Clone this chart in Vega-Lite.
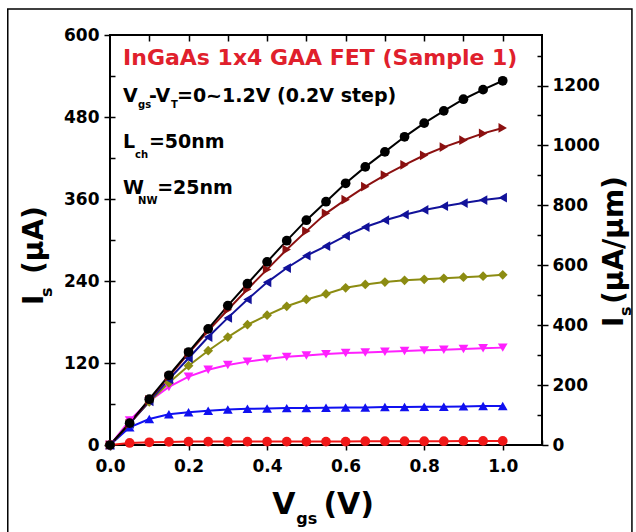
{
  "$schema": "https://vega.github.io/schema/vega-lite/v6.json",
  "width": 432,
  "height": 410,
  "autosize": "none",
  "padding": {"left": 110, "top": 35, "right": 94, "bottom": 87},
  "background": "white",
  "config": {
    "font": "DejaVu Sans",
    "view": {"stroke": "black", "strokeWidth": 2},
    "axis": {"grid": false, "domain": false, "labelFlush": false, "labelFont": "DejaVu Sans", "labelFontWeight": "bold", "labelFontSize": 17, "labelColor": "black", "tickColor": "black", "tickWidth": 1.5, "title": null}
  },
  "data": {
    "values": [
      {"s": "0.0", "v": 0, "i": 0}, {"s": "0.0", "v": 0.05, "i": 3}, {"s": "0.0", "v": 0.1, "i": 4}, {"s": "0.0", "v": 0.15, "i": 4.5}, {"s": "0.0", "v": 0.2, "i": 5}, {"s": "0.0", "v": 0.25, "i": 5}, {"s": "0.0", "v": 0.3, "i": 5}, {"s": "0.0", "v": 0.35, "i": 5}, {"s": "0.0", "v": 0.4, "i": 5}, {"s": "0.0", "v": 0.45, "i": 5}, {"s": "0.0", "v": 0.5, "i": 5}, {"s": "0.0", "v": 0.55, "i": 5}, {"s": "0.0", "v": 0.6, "i": 5}, {"s": "0.0", "v": 0.65, "i": 5.5}, {"s": "0.0", "v": 0.7, "i": 5.5}, {"s": "0.0", "v": 0.75, "i": 5.5}, {"s": "0.0", "v": 0.8, "i": 5.5}, {"s": "0.0", "v": 0.85, "i": 5.5}, {"s": "0.0", "v": 0.9, "i": 6}, {"s": "0.0", "v": 0.95, "i": 6}, {"s": "0.0", "v": 1.0, "i": 6},
      {"s": "0.2", "v": 0, "i": 0}, {"s": "0.2", "v": 0.05, "i": 26}, {"s": "0.2", "v": 0.1, "i": 38}, {"s": "0.2", "v": 0.15, "i": 45}, {"s": "0.2", "v": 0.2, "i": 48}, {"s": "0.2", "v": 0.25, "i": 50}, {"s": "0.2", "v": 0.3, "i": 52}, {"s": "0.2", "v": 0.35, "i": 53}, {"s": "0.2", "v": 0.4, "i": 53.5}, {"s": "0.2", "v": 0.45, "i": 54}, {"s": "0.2", "v": 0.5, "i": 54}, {"s": "0.2", "v": 0.55, "i": 54.5}, {"s": "0.2", "v": 0.6, "i": 55}, {"s": "0.2", "v": 0.65, "i": 55}, {"s": "0.2", "v": 0.7, "i": 55.5}, {"s": "0.2", "v": 0.75, "i": 55.5}, {"s": "0.2", "v": 0.8, "i": 56}, {"s": "0.2", "v": 0.85, "i": 56}, {"s": "0.2", "v": 0.9, "i": 56.5}, {"s": "0.2", "v": 0.95, "i": 57}, {"s": "0.2", "v": 1.0, "i": 57},
      {"s": "0.4", "v": 0, "i": 0}, {"s": "0.4", "v": 0.05, "i": 36}, {"s": "0.4", "v": 0.1, "i": 64}, {"s": "0.4", "v": 0.15, "i": 85}, {"s": "0.4", "v": 0.2, "i": 100}, {"s": "0.4", "v": 0.25, "i": 110}, {"s": "0.4", "v": 0.3, "i": 117}, {"s": "0.4", "v": 0.35, "i": 122}, {"s": "0.4", "v": 0.4, "i": 126}, {"s": "0.4", "v": 0.45, "i": 129}, {"s": "0.4", "v": 0.5, "i": 131}, {"s": "0.4", "v": 0.55, "i": 133}, {"s": "0.4", "v": 0.6, "i": 134.5}, {"s": "0.4", "v": 0.65, "i": 135.5}, {"s": "0.4", "v": 0.7, "i": 136.5}, {"s": "0.4", "v": 0.75, "i": 137.5}, {"s": "0.4", "v": 0.8, "i": 138.5}, {"s": "0.4", "v": 0.85, "i": 139.5}, {"s": "0.4", "v": 0.9, "i": 140.5}, {"s": "0.4", "v": 0.95, "i": 141.5}, {"s": "0.4", "v": 1.0, "i": 142.5},
      {"s": "0.6", "v": 0, "i": 0}, {"s": "0.6", "v": 0.05, "i": 32}, {"s": "0.6", "v": 0.1, "i": 63}, {"s": "0.6", "v": 0.15, "i": 91}, {"s": "0.6", "v": 0.2, "i": 116}, {"s": "0.6", "v": 0.25, "i": 138}, {"s": "0.6", "v": 0.3, "i": 158}, {"s": "0.6", "v": 0.35, "i": 176}, {"s": "0.6", "v": 0.4, "i": 190}, {"s": "0.6", "v": 0.45, "i": 203}, {"s": "0.6", "v": 0.5, "i": 213}, {"s": "0.6", "v": 0.55, "i": 221}, {"s": "0.6", "v": 0.6, "i": 230}, {"s": "0.6", "v": 0.65, "i": 235}, {"s": "0.6", "v": 0.7, "i": 238.5}, {"s": "0.6", "v": 0.75, "i": 241}, {"s": "0.6", "v": 0.8, "i": 242.5}, {"s": "0.6", "v": 0.85, "i": 244}, {"s": "0.6", "v": 0.9, "i": 245.5}, {"s": "0.6", "v": 0.95, "i": 247}, {"s": "0.6", "v": 1.0, "i": 249},
      {"s": "0.8", "v": 0, "i": 0}, {"s": "0.8", "v": 0.05, "i": 31}, {"s": "0.8", "v": 0.1, "i": 64}, {"s": "0.8", "v": 0.15, "i": 96}, {"s": "0.8", "v": 0.2, "i": 127}, {"s": "0.8", "v": 0.25, "i": 158}, {"s": "0.8", "v": 0.3, "i": 186}, {"s": "0.8", "v": 0.35, "i": 213}, {"s": "0.8", "v": 0.4, "i": 238}, {"s": "0.8", "v": 0.45, "i": 259}, {"s": "0.8", "v": 0.5, "i": 277}, {"s": "0.8", "v": 0.55, "i": 291}, {"s": "0.8", "v": 0.6, "i": 306}, {"s": "0.8", "v": 0.65, "i": 319}, {"s": "0.8", "v": 0.7, "i": 329}, {"s": "0.8", "v": 0.75, "i": 337}, {"s": "0.8", "v": 0.8, "i": 344}, {"s": "0.8", "v": 0.85, "i": 349.5}, {"s": "0.8", "v": 0.9, "i": 354}, {"s": "0.8", "v": 0.95, "i": 358.5}, {"s": "0.8", "v": 1.0, "i": 362},
      {"s": "1.0", "v": 0, "i": 0}, {"s": "1.0", "v": 0.05, "i": 31}, {"s": "1.0", "v": 0.1, "i": 66}, {"s": "1.0", "v": 0.15, "i": 100}, {"s": "1.0", "v": 0.2, "i": 134}, {"s": "1.0", "v": 0.25, "i": 167}, {"s": "1.0", "v": 0.3, "i": 198}, {"s": "1.0", "v": 0.35, "i": 228}, {"s": "1.0", "v": 0.4, "i": 257}, {"s": "1.0", "v": 0.45, "i": 286}, {"s": "1.0", "v": 0.5, "i": 313}, {"s": "1.0", "v": 0.55, "i": 339}, {"s": "1.0", "v": 0.6, "i": 359}, {"s": "1.0", "v": 0.65, "i": 378}, {"s": "1.0", "v": 0.7, "i": 395}, {"s": "1.0", "v": 0.75, "i": 410}, {"s": "1.0", "v": 0.8, "i": 424}, {"s": "1.0", "v": 0.85, "i": 436}, {"s": "1.0", "v": 0.9, "i": 446}, {"s": "1.0", "v": 0.95, "i": 456}, {"s": "1.0", "v": 1.0, "i": 464},
      {"s": "1.2", "v": 0, "i": 0}, {"s": "1.2", "v": 0.05, "i": 32}, {"s": "1.2", "v": 0.1, "i": 67}, {"s": "1.2", "v": 0.15, "i": 102}, {"s": "1.2", "v": 0.2, "i": 136}, {"s": "1.2", "v": 0.25, "i": 170}, {"s": "1.2", "v": 0.3, "i": 204}, {"s": "1.2", "v": 0.35, "i": 236}, {"s": "1.2", "v": 0.4, "i": 268}, {"s": "1.2", "v": 0.45, "i": 299}, {"s": "1.2", "v": 0.5, "i": 329}, {"s": "1.2", "v": 0.55, "i": 356}, {"s": "1.2", "v": 0.6, "i": 383}, {"s": "1.2", "v": 0.65, "i": 407}, {"s": "1.2", "v": 0.7, "i": 429}, {"s": "1.2", "v": 0.75, "i": 451}, {"s": "1.2", "v": 0.8, "i": 471}, {"s": "1.2", "v": 0.85, "i": 489}, {"s": "1.2", "v": 0.9, "i": 506}, {"s": "1.2", "v": 0.95, "i": 520}, {"s": "1.2", "v": 1.0, "i": 533}
    ]
  },
  "resolve": {"scale": {"x": "shared", "y": "shared"}, "axis": {"x": "independent", "y": "independent"}},
  "layer": [
    {
      "data": {"values": [{}]},
      "mark": {"type": "rect", "filled": false, "stroke": "black", "strokeWidth": 1.5},
      "encoding": {
        "x": {"datum": -0.2603, "type": "quantitative", "axis": null, "scale": {"domain": [0, 1.1], "nice": false, "zero": false}},
        "x2": {"datum": 1.329},
        "y": {"datum": 638, "type": "quantitative", "axis": null, "scale": {"domain": [0, 600], "nice": false, "zero": false}},
        "y2": {"datum": -140}
      }
    },
    {
      "mark": {"type": "line", "strokeWidth": 2},
      "encoding": {
        "x": {"field": "v", "type": "quantitative", "scale": {"domain": [0, 1.1], "nice": false, "zero": false},
              "axis": {"orient": "bottom", "values": [0, 0.2, 0.4, 0.6, 0.8, 1.0], "format": ".1f", "tickSize": 5, "labelPadding": 8}},
        "y": {"field": "i", "type": "quantitative", "scale": {"domain": [0, 600], "nice": false, "zero": false},
              "axis": {"orient": "left", "values": [0, 120, 240, 360, 480, 600], "tickSize": 6, "labelPadding": 5}},
        "color": {"field": "s", "type": "nominal", "legend": null,
                  "scale": {"domain": ["0.0", "0.2", "0.4", "0.6", "0.8", "1.0", "1.2"], "range": ["#f01818", "#1010f0", "#ff20ff", "#8c8c12", "#12129a", "#8b1010", "#000000"]}},
        "order": {"field": "v", "type": "quantitative"}
      }
    },
    {
      "mark": {"type": "point", "filled": true, "size": 95, "opacity": 1},
      "encoding": {
        "x": {"field": "v", "type": "quantitative", "axis": null},
        "y": {"field": "i", "type": "quantitative", "axis": null},
        "color": {"field": "s", "type": "nominal", "legend": null},
        "shape": {"field": "s", "type": "nominal", "legend": null,
                  "scale": {"domain": ["0.0", "0.2", "0.4", "0.6", "0.8", "1.0", "1.2"], "range": ["circle", "triangle-up", "triangle-down", "diamond", "triangle-left", "triangle-right", "circle"]}}
      }
    },
    {
      "mark": {"type": "point", "opacity": 0},
      "encoding": {
        "x": {"field": "v", "type": "quantitative",
              "axis": {"orient": "bottom", "values": [0, 0.1, 0.2, 0.3, 0.4, 0.5, 0.6, 0.7, 0.8, 0.9, 1.0, 1.1], "tickSize": -5, "labels": false}},
        "y": {"field": "i", "type": "quantitative",
              "axis": {"orient": "left", "values": [60, 120, 180, 240, 300, 360, 420, 480, 540], "tickSize": -5, "labels": false}}
      }
    },
    {
      "mark": {"type": "point", "opacity": 0},
      "encoding": {
        "x": {"field": "v", "type": "quantitative",
              "axis": {"orient": "top", "values": [0.1, 0.2, 0.3, 0.4, 0.5, 0.6, 0.7, 0.8, 0.9, 1.0], "tickSize": -6, "labels": false}},
        "y": {"field": "i", "type": "quantitative",
              "axis": {"orient": "right", "values": [0, 87.68, 175.36, 263.04, 350.72, 438.4, 526.08], "tickSize": 6, "labelPadding": 4,
                       "labelExpr": "format(round(datum.value*2.281/100)*100, 'd')"}}
      }
    },
    {
      "mark": {"type": "point", "opacity": 0},
      "encoding": {
        "x": {"field": "v", "type": "quantitative", "axis": null},
        "y": {"field": "i", "type": "quantitative",
              "axis": {"orient": "right", "values": [43.84, 87.68, 131.52, 175.36, 219.2, 263.04, 306.88, 350.72, 394.56, 438.4, 482.24, 526.08, 569.92], "tickSize": -5, "labels": false}}
      }
    },
    {
      "data": {"values": [{}]},
      "mark": {"type": "text", "text": "InGaAs 1x4 GAA FET (Sample 1)", "fontWeight": "bold", "fontSize": 22, "align": "left", "baseline": "middle", "color": "#e0202c"},
      "encoding": {"x": {"datum": 0.0332, "type": "quantitative", "axis": null}, "y": {"datum": 566, "type": "quantitative", "axis": null}}
    },
    {
      "data": {"values": [{}]},
      "mark": {"type": "text", "text": "V", "fontWeight": "bold", "fontSize": 19, "align": "left", "baseline": "middle", "color": "black"},
      "encoding": {"x": {"datum": 0.0332, "type": "quantitative", "axis": null}, "y": {"datum": 510.7, "type": "quantitative", "axis": null}}
    },
    {
      "data": {"values": [{}]},
      "mark": {"type": "text", "text": "gs", "fontWeight": "bold", "fontSize": 10, "align": "left", "baseline": "middle", "color": "black"},
      "encoding": {"x": {"datum": 0.0714, "type": "quantitative", "axis": null}, "y": {"datum": 497, "type": "quantitative", "axis": null}}
    },
    {
      "data": {"values": [{}]},
      "mark": {"type": "text", "text": "-V", "fontWeight": "bold", "fontSize": 19, "align": "left", "baseline": "middle", "color": "black"},
      "encoding": {"x": {"datum": 0.0995, "type": "quantitative", "axis": null}, "y": {"datum": 510.7, "type": "quantitative", "axis": null}}
    },
    {
      "data": {"values": [{}]},
      "mark": {"type": "text", "text": "T", "fontWeight": "bold", "fontSize": 10, "align": "left", "baseline": "middle", "color": "black"},
      "encoding": {"x": {"datum": 0.1555, "type": "quantitative", "axis": null}, "y": {"datum": 497, "type": "quantitative", "axis": null}}
    },
    {
      "data": {"values": [{}]},
      "mark": {"type": "text", "text": "=0~1.2V (0.2V step)", "fontWeight": "bold", "fontSize": 19, "align": "left", "baseline": "middle", "color": "black"},
      "encoding": {"x": {"datum": 0.1705, "type": "quantitative", "axis": null}, "y": {"datum": 510.7, "type": "quantitative", "axis": null}}
    },
    {
      "data": {"values": [{}]},
      "mark": {"type": "text", "text": "L", "fontWeight": "bold", "fontSize": 19, "align": "left", "baseline": "middle", "color": "black"},
      "encoding": {"x": {"datum": 0.0332, "type": "quantitative", "axis": null}, "y": {"datum": 444, "type": "quantitative", "axis": null}}
    },
    {
      "data": {"values": [{}]},
      "mark": {"type": "text", "text": "ch", "fontWeight": "bold", "fontSize": 10, "align": "left", "baseline": "middle", "color": "black"},
      "encoding": {"x": {"datum": 0.0638, "type": "quantitative", "axis": null}, "y": {"datum": 425, "type": "quantitative", "axis": null}}
    },
    {
      "data": {"values": [{}]},
      "mark": {"type": "text", "text": "=50nm", "fontWeight": "bold", "fontSize": 19, "align": "left", "baseline": "middle", "color": "black"},
      "encoding": {"x": {"datum": 0.099, "type": "quantitative", "axis": null}, "y": {"datum": 444, "type": "quantitative", "axis": null}}
    },
    {
      "data": {"values": [{}]},
      "mark": {"type": "text", "text": "W", "fontWeight": "bold", "fontSize": 19, "align": "left", "baseline": "middle", "color": "black"},
      "encoding": {"x": {"datum": 0.0332, "type": "quantitative", "axis": null}, "y": {"datum": 375.4, "type": "quantitative", "axis": null}}
    },
    {
      "data": {"values": [{}]},
      "mark": {"type": "text", "text": "NW", "fontWeight": "bold", "fontSize": 10, "align": "left", "baseline": "middle", "color": "black"},
      "encoding": {"x": {"datum": 0.0714, "type": "quantitative", "axis": null}, "y": {"datum": 357, "type": "quantitative", "axis": null}}
    },
    {
      "data": {"values": [{}]},
      "mark": {"type": "text", "text": "=25nm", "fontWeight": "bold", "fontSize": 19, "align": "left", "baseline": "middle", "color": "black"},
      "encoding": {"x": {"datum": 0.12, "type": "quantitative", "axis": null}, "y": {"datum": 375.4, "type": "quantitative", "axis": null}}
    },
    {
      "data": {"values": [{}]},
      "mark": {"type": "text", "text": "V", "fontWeight": "bold", "fontSize": 30, "align": "left", "baseline": "middle", "color": "black"},
      "encoding": {"x": {"datum": 0.4133, "type": "quantitative", "axis": null}, "y": {"datum": -87.8, "type": "quantitative", "axis": null}}
    },
    {
      "data": {"values": [{}]},
      "mark": {"type": "text", "text": "gs", "fontWeight": "bold", "fontSize": 16, "align": "left", "baseline": "middle", "color": "black"},
      "encoding": {"x": {"datum": 0.4745, "type": "quantitative", "axis": null}, "y": {"datum": -108, "type": "quantitative", "axis": null}}
    },
    {
      "data": {"values": [{}]},
      "mark": {"type": "text", "text": "(V)", "fontWeight": "bold", "fontSize": 30, "align": "left", "baseline": "middle", "color": "black"},
      "encoding": {"x": {"datum": 0.5434, "type": "quantitative", "axis": null}, "y": {"datum": -87.8, "type": "quantitative", "axis": null}}
    },
    {
      "data": {"values": [{}]},
      "mark": {"type": "text", "text": "I", "fontWeight": "bold", "fontSize": 28, "align": "left", "baseline": "alphabetic", "angle": 270, "color": "black"},
      "encoding": {"x": {"datum": -0.1709, "type": "quantitative", "axis": null}, "y": {"datum": 204.9, "type": "quantitative", "axis": null}}
    },
    {
      "data": {"values": [{}]},
      "mark": {"type": "text", "text": "s", "fontWeight": "bold", "fontSize": 16, "align": "left", "baseline": "alphabetic", "angle": 270, "color": "black"},
      "encoding": {"x": {"datum": -0.148, "type": "quantitative", "axis": null}, "y": {"datum": 216.6, "type": "quantitative", "axis": null}}
    },
    {
      "data": {"values": [{}]},
      "mark": {"type": "text", "text": "(μA)", "fontWeight": "bold", "fontSize": 28, "align": "left", "baseline": "alphabetic", "angle": 270, "color": "black"},
      "encoding": {"x": {"datum": -0.1709, "type": "quantitative", "axis": null}, "y": {"datum": 250.3, "type": "quantitative", "axis": null}}
    },
    {
      "data": {"values": [{}]},
      "mark": {"type": "text", "text": "I", "fontWeight": "bold", "fontSize": 28, "align": "left", "baseline": "alphabetic", "angle": 270, "color": "black"},
      "encoding": {"x": {"datum": 1.306, "type": "quantitative", "axis": null}, "y": {"datum": 172.7, "type": "quantitative", "axis": null}}
    },
    {
      "data": {"values": [{}]},
      "mark": {"type": "text", "text": "s", "fontWeight": "bold", "fontSize": 16, "align": "left", "baseline": "alphabetic", "angle": 270, "color": "black"},
      "encoding": {"x": {"datum": 1.3265, "type": "quantitative", "axis": null}, "y": {"datum": 188.8, "type": "quantitative", "axis": null}}
    },
    {
      "data": {"values": [{}]},
      "mark": {"type": "text", "text": "(μA/μm)", "fontWeight": "bold", "fontSize": 28, "align": "left", "baseline": "alphabetic", "angle": 270, "color": "black"},
      "encoding": {"x": {"datum": 1.306, "type": "quantitative", "axis": null}, "y": {"datum": 206.4, "type": "quantitative", "axis": null}}
    }
  ]
}
